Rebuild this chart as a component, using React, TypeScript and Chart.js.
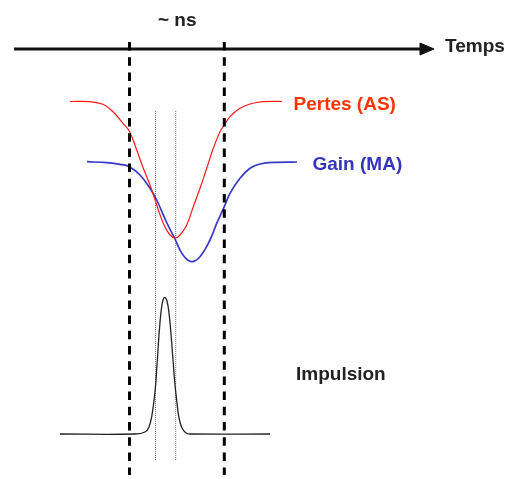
import React, { useEffect, useRef } from "react";
import { Chart, registerables } from "chart.js";

Chart.register(...registerables);

// Time axis (horizontal) and level (vertical, top = 0)
const pertesT = [70, 90, 103, 113, 123, 129.5, 136.7, 143.3, 150, 156.7, 163.3, 170, 175.5, 180, 186.7, 193.3, 200, 206.7, 213.3, 220, 224.3, 230, 240, 250, 263, 282];
const pertesV = [101.5, 101.7, 104.3, 111.7, 123.3, 131.5, 150, 168.3, 185, 205, 223.3, 235, 238, 235, 225, 206.7, 188.3, 168.3, 148.3, 131.7, 125, 116.7, 108.3, 104, 101.7, 101.3];

const gainT = [87, 106.7, 120, 129.3, 140, 150, 156.7, 166.7, 175, 180, 185, 191.7, 200, 210, 216.7, 224.3, 230, 240, 250, 260, 276.7, 297];
const gainV = [161.7, 162.7, 164.3, 166.7, 175, 188.3, 200, 222.5, 239, 250, 257.5, 261.7, 256.7, 240, 223.3, 206.7, 193.3, 178.3, 168.3, 164, 162.3, 162];

const pulseT = [60, 135, 145, 149, 152, 155, 157, 159, 161, 163, 165, 167, 169, 171, 173, 175, 177, 179, 182, 186, 190, 270];
const pulseV = [434, 434, 432, 427, 415, 392, 365, 335, 312, 300, 297.5, 301, 313, 334, 360, 385, 403, 418, 428, 433, 434, 434];

// Time axis arrow
const axisT = [14, 424];
const axisV = [49, 49];
const arrowT = [420, 434, 420, 420];
const arrowV = [43, 49, 55, 43];

// Window markers (dashed) and pulse width markers (dotted)
const windowT = [129.5, 224.3];
const windowV = [42, 475];
const pulseWidthT = [155.5, 175.7];
const pulseWidthV = [111, 460];

const labels = ["~ ns", "Temps", "Pertes (AS)", "Gain (MA)", "Impulsion"];

const pts = (xs: number[], ys: number[]) => xs.map((x, i) => ({ x, y: ys[i] }));

export default function App() {
  const ref = useRef<HTMLCanvasElement | null>(null);

  useEffect(() => {
    if (!ref.current) return;
    const labelPlugin = {
      id: "labels",
      afterDatasetsDraw(chart: any, _a: any, opts: any) {
        const { ctx, scales } = chart;
        ctx.save();
        ctx.font = 'bold 19px "Liberation Sans", Arial, sans-serif';
        ctx.textBaseline = "alphabetic";
        ctx.textAlign = "left";
        opts.items.forEach((it: any, i: number) => {
          ctx.fillStyle = it.color;
          ctx.fillText(labels[i], scales.x.getPixelForValue(it.x), scales.y.getPixelForValue(it.y));
        });
        ctx.restore();
      },
    };

    const lineDs = (data: any[], color: string, width: number, extra: any = {}) => ({
      data,
      borderColor: color,
      backgroundColor: color,
      borderWidth: width,
      pointRadius: 0,
      showLine: true,
      fill: false,
      tension: 0,
      ...extra,
    });

    const chart = new Chart(ref.current, {
      type: "scatter",
      data: {
        datasets: [
          lineDs(pts([windowT[0], windowT[0]], windowV), "#000", 3, { borderDash: [8.5, 6.7], order: 0 }),
          lineDs(pts([windowT[1], windowT[1]], windowV), "#000", 3, { borderDash: [8.5, 6.7], order: 0 }),
          lineDs(pts(axisT, axisV), "#111", 2.8, { order: 1 }),
          lineDs(pts(arrowT, arrowV), "#111", 1, { fill: "shape", order: 1 }),
          lineDs(pts(pertesT, pertesV), "#ff1a1a", 1.2, { tension: 0.4, order: 2 }),
          lineDs(pts(gainT, gainV), "#3838c8", 1.7, { tension: 0.4, order: 2 }),
          lineDs(pts(pulseT, pulseV), "#222", 1.3, { tension: 0.4, order: 2 }),
          lineDs(pts([pulseWidthT[0], pulseWidthT[0]], pulseWidthV), "#777", 1, { borderDash: [1, 1], order: 3 }),
          lineDs(pts([pulseWidthT[1], pulseWidthT[1]], pulseWidthV), "#777", 1, { borderDash: [1, 1], order: 3 }),
        ],
      },
      options: {
        animation: false,
        responsive: false,
        maintainAspectRatio: false,
        layout: { padding: 0 },
        scales: {
          x: { type: "linear", min: 0, max: 517, display: false },
          y: { type: "linear", min: 0, max: 479, reverse: true, display: false },
        },
        plugins: {
          legend: { display: false },
          tooltip: { enabled: false },
          labels: {
            items: [
              { x: 158, y: 26, color: "#222" },
              { x: 445, y: 51.5, color: "#222" },
              { x: 293.5, y: 110, color: "#ff3300" },
              { x: 312.5, y: 170, color: "#3535c0" },
              { x: 296, y: 380, color: "#222" },
            ],
          },
        } as any,
      },
      plugins: [labelPlugin],
    });
    return () => chart.destroy();
  }, []);

  return (
    <div style={{ position: "absolute", left: 0, top: 0, width: 517, height: 479, background: "#fff" }}>
      <canvas ref={ref} width={517} height={479} style={{ display: "block" }} />
    </div>
  );
}
